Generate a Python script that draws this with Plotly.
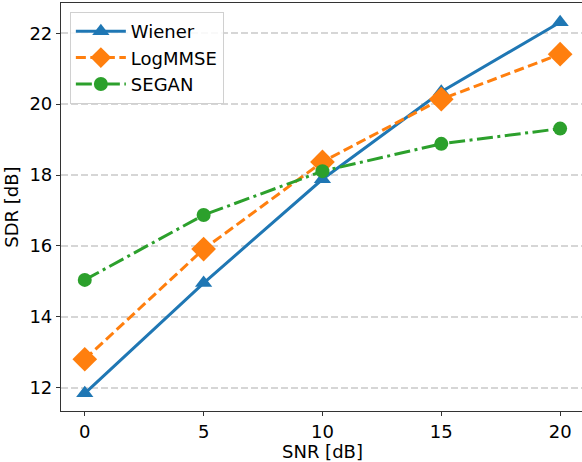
import plotly.graph_objects as go

snr = [0, 5, 10, 15, 20]
wiener = [11.84, 14.95, 17.88, 20.35, 22.31]
logmmse = [12.80, 15.91, 18.37, 20.14, 21.41]
segan = [15.04, 16.87, 18.11, 18.88, 19.31]
y_ticks = [12, 14, 16, 18, 20, 22]
x_ticks = [0, 5, 10, 15, 20]

fig = go.Figure()
fig.add_trace(go.Scatter(x=snr, y=wiener, name="Wiener", mode="lines+markers",
                         line=dict(color="#1f77b4", width=3, dash="solid"),
                         marker=dict(symbol="triangle-up", size=15, color="#1f77b4")))
fig.add_trace(go.Scatter(x=snr, y=logmmse, name="LogMMSE", mode="lines+markers",
                         line=dict(color="#ff7f0e", width=3, dash="10px,4.5px"),
                         marker=dict(symbol="diamond", size=19, color="#ff7f0e")))
fig.add_trace(go.Scatter(x=snr, y=segan, name="SEGAN", mode="lines+markers",
                         line=dict(color="#2ca02c", width=3, dash="16px,4.5px,3px,4.5px"),
                         marker=dict(symbol="circle", size=14, color="#2ca02c")))

fig.update_layout(
    width=582, height=462,
    margin=dict(l=61, r=0, t=3, b=51),
    paper_bgcolor="white", plot_bgcolor="white",
    font=dict(family="DejaVu Sans", size=18, color="black"),
    showlegend=True,
    legend=dict(x=0.017, y=0.978, xanchor="left", yanchor="top",
                bgcolor="rgba(255,255,255,0.85)", bordercolor="#d0d0d0", borderwidth=1,
                font=dict(size=18), itemwidth=50, tracegroupgap=0),
    annotations=[
        dict(text="SNR [dB]", xref="paper", yref="paper", x=0.501, y=-0.099,
             xanchor="center", yanchor="middle", showarrow=False, font=dict(size=18)),
        dict(text="SDR [dB]", xref="paper", yref="paper", x=-0.0725, y=0.5,
             xanchor="right", yanchor="middle", textangle=-90, showarrow=False,
             font=dict(size=18)),
    ],
)
fig.update_xaxes(range=[-1, 20.92], tickvals=x_ticks, showgrid=False, zeroline=False,
                 showline=True, linecolor="#333333", linewidth=1.2, mirror=True,
                 ticks="outside", ticklen=4, tickcolor="#333333", automargin=False,
                 tickfont=dict(size=18))
fig.update_yaxes(range=[11.34, 22.855], tickvals=y_ticks, showgrid=True,
                 gridcolor="#d6d6d6", griddash="7px,3px", gridwidth=1.5, zeroline=False,
                 showline=True, linecolor="#333333", linewidth=1.2, mirror=False,
                 ticks="outside", ticklen=4, tickcolor="#333333", automargin=False,
                 tickfont=dict(size=18))

fig.write_html("out.html", config={"displayModeBar": False},
               post_script="document.body.style.margin='0';document.body.style.overflow='hidden';")
